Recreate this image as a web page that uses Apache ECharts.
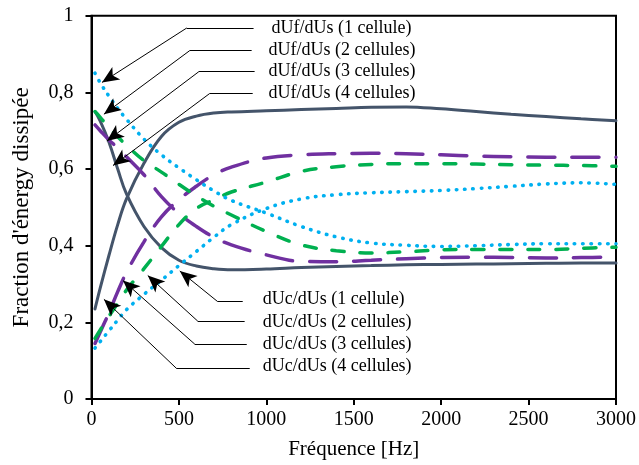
<!DOCTYPE html>
<html>
<head>
<meta charset="utf-8">
<script src="https://cdn.jsdelivr.net/npm/echarts@6/dist/echarts.min.js"></script>
<style>html,body{margin:0;padding:0;background:#fff}#c{width:639px;height:465px}</style>
</head>
<body>
<div id="c"></div>
<script>
// Frequencies [Hz]
const freq = [20, 50, 100, 150, 200, 300, 400, 500, 600, 700, 800, 1000, 1200, 1400, 1600, 1800, 2000, 2200, 2400, 2600, 2800, 3000];
// dUf/dUs
const dUf1 = [0.85, 0.825, 0.79, 0.758, 0.73, 0.678, 0.637, 0.603, 0.572, 0.543, 0.518, 0.485, 0.45, 0.423, 0.407, 0.401, 0.398, 0.400, 0.403, 0.405, 0.405, 0.405];
const dUf2 = [0.75, 0.735, 0.708, 0.684, 0.662, 0.622, 0.592, 0.56, 0.53, 0.503, 0.48, 0.437, 0.402, 0.387, 0.381, 0.384, 0.389, 0.39, 0.39, 0.39, 0.393, 0.396];
const dUf3 = [0.715, 0.70, 0.676, 0.655, 0.632, 0.585, 0.528, 0.484, 0.45, 0.422, 0.402, 0.376, 0.359, 0.358, 0.362, 0.366, 0.369, 0.37, 0.369, 0.368, 0.369, 0.37];
const dUf4 = [0.75, 0.725, 0.67, 0.60, 0.535, 0.45, 0.395, 0.362, 0.347, 0.34, 0.337, 0.339, 0.343, 0.346, 0.348, 0.35, 0.351, 0.352, 0.353, 0.354, 0.355, 0.355];
// dUc/dUs
const dUc1 = [0.133, 0.15, 0.178, 0.206, 0.233, 0.273, 0.31, 0.348, 0.385, 0.422, 0.455, 0.497, 0.522, 0.533, 0.538, 0.541, 0.544, 0.549, 0.555, 0.561, 0.564, 0.560];
const dUc2 = [0.158, 0.18, 0.216, 0.25, 0.284, 0.34, 0.398, 0.455, 0.497, 0.52, 0.54, 0.566, 0.594, 0.606, 0.612, 0.614, 0.614, 0.613, 0.611, 0.61, 0.609, 0.607];
const dUc3 = [0.145, 0.175, 0.225, 0.28, 0.33, 0.41, 0.475, 0.52, 0.555, 0.585, 0.605, 0.629, 0.637, 0.640, 0.641, 0.640, 0.637, 0.634, 0.632, 0.631, 0.631, 0.631];
const dUc4 = [0.235, 0.29, 0.375, 0.455, 0.522, 0.615, 0.685, 0.722, 0.738, 0.746, 0.749, 0.752, 0.755, 0.758, 0.761, 0.762, 0.757, 0.75, 0.743, 0.737, 0.731, 0.726];

const dUfNames = ['dUf/dUs (1 cellule)', 'dUf/dUs (2 cellules)', 'dUf/dUs (3 cellules)', 'dUf/dUs (4 cellules)'];
const dUcNames = ['dUc/dUs (1 cellule)', 'dUc/dUs (2 cellules)', 'dUc/dUs (3 cellules)', 'dUc/dUs (4 cellules)'];

const FONT = '"Liberation Serif", "Times New Roman", serif';

// styles per cell count
const styles = [
  {color: '#00B0F0', width: 3.6, type: [0.5, 7.8], cap: 'round'},
  {color: '#00B050', width: 3.5, type: [12, 16], cap: 'round'},
  {color: '#7030A0', width: 3.5, type: [27, 17], cap: 'round'},
  {color: '#44546A', width: 3, type: 'solid', cap: 'round'}
];

// annotation geometry (data coords): line end, elbow, arrow tip, text anchor
const annTop = [
  {end: [927, 0.968], elbow: [545, 0.968], tip: [60, 0.826], text: [1030, 0.968]},
  {end: [916, 0.909], elbow: [562, 0.909], tip: [71, 0.743], text: [1013, 0.909]},
  {end: [933, 0.854], elbow: [614, 0.854], tip: [88, 0.673], text: [1013, 0.854]},
  {end: [922, 0.797], elbow: [676, 0.797], tip: [123, 0.609], text: [1013, 0.797]}
];
const annBot = [
  {end: [865, 0.254], elbow: [722, 0.254], tip: [505, 0.334], text: [979, 0.259]},
  {end: [876, 0.203], elbow: [608, 0.203], tip: [322, 0.322], text: [979, 0.200]},
  {end: [888, 0.143], elbow: [591, 0.143], tip: [180, 0.309], text: [979, 0.143]},
  {end: [905, 0.079], elbow: [488, 0.079], tip: [71, 0.260], text: [979, 0.086]}
];

const pairs = arr => freq.map((f, i) => [f, arr[i]]);
const ufs = [dUf1, dUf2, dUf3, dUf4];
const ucs = [dUc1, dUc2, dUc3, dUc4];

const series = [];
for (let k = 3; k >= 0; k--) {
  [[ufs[k], dUfNames[k]], [ucs[k], dUcNames[k]]].forEach(([arr, nm]) => {
    series.push({
      name: nm, type: 'line', data: pairs(arr), smooth: 0.4,
      showSymbol: false, symbol: 'none', silent: true,
      lineStyle: {color: styles[k].color, width: styles[k].width, type: styles[k].type, cap: styles[k].cap}
    });
  });
}

const mlData = [];
const mpData = [];
const addAnn = (list, names) => list.forEach((a, i) => {
  mlData.push([{coord: a.end, symbol: 'none'}, {coord: a.elbow, symbol: 'none'}]);
  mlData.push([{coord: a.elbow, symbol: 'none'}, {coord: a.tip, symbol: 'arrow', symbolSize: [11, 17]}]);
  mpData.push({coord: a.text, symbol: 'rect', symbolSize: 0,
    label: {show: true, position: 'right', distance: 0, formatter: names[i],
      fontFamily: FONT, fontSize: 18, color: '#000'}});
});
addAnn(annTop, dUfNames);
addAnn(annBot, dUcNames);

series.push({
  type: 'line', data: [], silent: true,
  markLine: {silent: true, animation: false, symbol: ['none', 'arrow'],
    lineStyle: {color: '#000', width: 1, type: 'solid'}, label: {show: false},
    emphasis: {disabled: true}, data: mlData},
  markPoint: {silent: true, animation: false, data: mpData}
});

const chart = echarts.init(document.getElementById('c'), null, {renderer: 'canvas'});
chart.setOption({
  animation: false,
  backgroundColor: '#fff',
  grid: {left: 91.5, right: 21.5, top: 15.7, bottom: 62.7, show: true, borderColor: '#000', borderWidth: 2},
  xAxis: {
    type: 'value', min: 0, max: 3000, interval: 500,
    name: 'Fréquence [Hz]', nameLocation: 'middle', nameGap: 40,
    nameTextStyle: {fontFamily: FONT, fontSize: 21, color: '#000'},
    axisLine: {lineStyle: {color: '#000', width: 2}},
    axisTick: {show: true, length: 6, lineStyle: {color: '#000', width: 2}},
    axisLabel: {fontFamily: FONT, fontSize: 20, color: '#000', margin: 11,
      formatter: v => String(v)},
    splitLine: {show: false}
  },
  yAxis: {
    type: 'value', min: 0, max: 1, interval: 0.2,
    name: "Fraction d'énergy dissipée", nameLocation: 'middle', nameGap: 58,
    nameTextStyle: {fontFamily: FONT, fontSize: 23, color: '#000'},
    axisLine: {lineStyle: {color: '#000', width: 2}},
    axisTick: {show: true, length: 6, lineStyle: {color: '#000', width: 2}},
    axisLabel: {fontFamily: FONT, fontSize: 20, color: '#000', margin: 18,
      formatter: v => String(Number(v.toFixed(1))).replace('.', ',')},
    splitLine: {show: false}
  },
  series: series
});
</script>
</body>
</html>
